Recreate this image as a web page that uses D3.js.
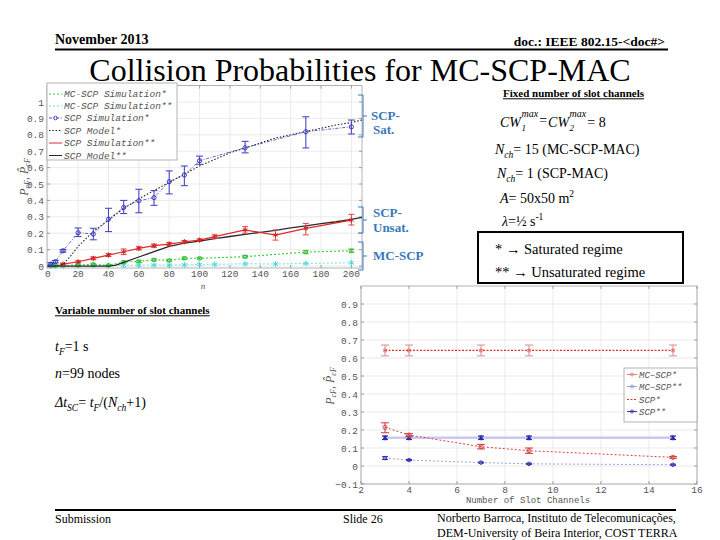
<!DOCTYPE html>
<html><head><meta charset="utf-8">
<script src="https://cdn.jsdelivr.net/npm/d3@7"></script>
<style>body{margin:0;background:#fff} svg{display:block}</style>
</head><body>
<script>
// ---------- DATA: top chart (fixed number of slot channels) ----------
const topXTicks = [0,20,40,60,80,100,120,140,160,180,200];
const topYTicks = [0,0.1,0.2,0.3,0.4,0.5,0.6,0.7,0.8,0.9,1];

const nSatSim   = [2,5,10,20,30,40,50,60,70,80,90,100,130,170,200];
const scpSatSim = [0.012,0.026,0.093,0.203,0.195,0.285,0.357,0.398,0.417,0.514,0.555,0.642,0.721,0.819,0.849];
const scpSatLo  = [0.006,0.02,0.085,0.18,0.16,0.21,0.32,0.325,0.37,0.44,0.49,0.62,0.69,0.72,0.805];
const scpSatHi  = [0.02,0.034,0.1,0.232,0.23,0.352,0.40,0.468,0.46,0.58,0.61,0.67,0.76,0.91,0.89];

const nModel      = [0,5,10,15,20,30,40,45,50,60,70,80,90,100,110,120,130,140,150,160,170,180,190,200,207];
const scpSatModel = [0,0,0.01,0.06,0.12,0.21,0.28,0.315,0.35,0.41,0.46,0.51,0.56,0.61,0.65,0.69,0.72,0.75,0.78,0.80,0.82,0.84,0.86,0.875,0.89];
const scpUnsModel = [0,0,0,0,0,0,0,0.006,0.022,0.055,0.088,0.12,0.14,0.152,0.167,0.18,0.193,0.205,0.218,0.232,0.245,0.258,0.27,0.285,0.296];

const nUnsSim   = [10,20,30,40,50,60,70,80,90,100,110,130,150,170,200];
const scpUnsSim = [0.012,0.026,0.047,0.067,0.087,0.108,0.124,0.134,0.148,0.158,0.179,0.22,0.189,0.23,0.28];
const scpUnsLo  = [0.008,0.02,0.038,0.058,0.07,0.098,0.114,0.124,0.14,0.15,0.168,0.2,0.158,0.19,0.25];
const scpUnsHi  = [0.016,0.032,0.056,0.076,0.104,0.118,0.134,0.144,0.156,0.166,0.19,0.24,0.22,0.26,0.315];

const nMc     = [2,5,10,20,30,40,50,60,70,80,90,100,130,170,200];
const mcSatSim = [0.002,0.003,0.004,0.006,0.01,0.004,0.024,0.028,0.038,0.034,0.047,0.047,0.057,0.085,0.093];
const mcSatLo  = [0.0,0.0,0.001,0.002,0.005,0.001,0.018,0.022,0.032,0.028,0.04,0.042,0.05,0.075,0.082];
const mcSatHi  = [0.004,0.006,0.007,0.01,0.015,0.007,0.03,0.034,0.044,0.04,0.054,0.052,0.064,0.095,0.104];

const nMcU     = [2,5,10,20,30,40,50,60,70,80,90,100,110,130,150,170,200];
const mcUnsSim = [0.001,0.001,0.002,0.002,0.003,0.003,0.004,0.005,0.006,0.006,0.007,0.01,0.01,0.014,0.012,0.016,0.02];

const topLegend = ["MC-SCP Simulation*","MC-SCP Simulation**","SCP Simulation*","SCP Model*","SCP Simulation**","SCP Model**"];

// ---------- DATA: bottom chart (variable number of slot channels) ----------
const botXTicks = [2,4,6,8,10,12,14,16];
const botYTicks = [-0.1,0,0.1,0.2,0.3,0.4,0.5,0.6,0.7,0.8,0.9];
const channels = [3,4,7,9,15];
const scpSatB  = [0.642,0.642,0.642,0.642,0.642];
const scpSatBLo= [0.612,0.612,0.612,0.612,0.612];
const scpSatBHi= [0.672,0.672,0.672,0.672,0.672];
const mcSatB   = [0.215,0.172,0.107,0.085,0.048];
const mcSatBLo = [0.185,0.162,0.095,0.07,0.043];
const mcSatBHi = [0.24,0.18,0.12,0.1,0.053];
const scpUnsB  = [0.157,0.157,0.157,0.157,0.157];
const scpUnsBLo= [0.147,0.147,0.147,0.147,0.147];
const scpUnsBHi= [0.167,0.167,0.167,0.167,0.167];
const mcUnsB   = [0.044,0.033,0.019,0.012,0.007];
const mcUnsBLo = [0.036,0.03,0.016,0.009,0.004];
const mcUnsBHi = [0.052,0.036,0.022,0.015,0.01];
const botLegend = ["MC\u2212SCP*","MC\u2212SCP**","SCP*","SCP**"];

// ---------- DRAW ----------
const svg = d3.select("body").append("svg").attr("width",720).attr("height",540);
const SERIF = "'Liberation Serif','Times New Roman',serif";
const MONO = "'Liberation Mono','DejaVu Sans Mono',monospace";
const zip = (xs, ys) => xs.map((x,i)=>[x,ys[i]]);

function drawFrame(g, x, y, xt, yt, fmt, xTickY) {
  const [x0,x1] = x.range(), [y0,y1] = y.range();
  g.selectAll(null).data(xt).join("line")
    .attr("x1",d=>x(d)).attr("x2",d=>x(d)).attr("y1",y0).attr("y2",y1)
    .attr("stroke","#e6e6e6").attr("stroke-width",0.8);
  g.selectAll(null).data(yt).join("line")
    .attr("x1",x0).attr("x2",x1).attr("y1",d=>y(d)).attr("y2",d=>y(d))
    .attr("stroke","#e6e6e6").attr("stroke-width",0.8);
  g.append("rect").attr("x",x0).attr("y",y1).attr("width",x1-x0).attr("height",y0-y1)
    .attr("fill","none").attr("stroke","#a0a0a0").attr("stroke-width",0.8);
  const tk = g.append("g").attr("stroke","#8a8a8a").attr("stroke-width",0.8);
  xt.forEach(d=>{ tk.append("line").attr("x1",x(d)).attr("x2",x(d)).attr("y1",y0).attr("y2",y0-3);
                  tk.append("line").attr("x1",x(d)).attr("x2",x(d)).attr("y1",y1).attr("y2",y1+3);});
  yt.forEach(d=>{ tk.append("line").attr("x1",x0).attr("x2",x0+3).attr("y1",y(d)).attr("y2",y(d));
                  tk.append("line").attr("x1",x1).attr("x2",x1-3).attr("y1",y(d)).attr("y2",y(d));});
  g.selectAll(null).data(xt).join("text").attr("x",d=>x(d)).attr("y",xTickY)
    .attr("text-anchor","middle").attr("font-family",MONO).attr("font-size",9.5).attr("fill","#555").text(d=>d);
  g.selectAll(null).data(yt).join("text").attr("x",x0-3).attr("y",d=>y(d)+3.5)
    .attr("text-anchor","end").attr("font-family",MONO).attr("font-size",9.5).attr("fill","#555").text(fmt);
}
function errBars(g, x, y, xs, lo, hi, color, w, cap) {
  xs.forEach((xv,i)=>{
    const px = x(xv);
    g.append("line").attr("x1",px).attr("x2",px).attr("y1",y(lo[i])).attr("y2",y(hi[i])).attr("stroke",color).attr("stroke-width",w);
    [lo[i],hi[i]].forEach(v=> g.append("line").attr("x1",px-cap).attr("x2",px+cap).attr("y1",y(v)).attr("y2",y(v)).attr("stroke",color).attr("stroke-width",w));
  });
}
function path(g, x, y, xs, ys, color, w, dash) {
  g.append("path").datum(zip(xs,ys)).attr("d", d3.line().x(d=>x(d[0])).y(d=>y(d[1])))
    .attr("fill","none").attr("stroke",color).attr("stroke-width",w).attr("stroke-dasharray",dash||null);
}
function markers(g, x, y, xs, ys, type, size, color, fill) {
  const sym = d3.symbol().type(type).size(size);
  g.selectAll(null).data(zip(xs,ys)).join("path").attr("d",sym)
    .attr("transform",d=>`translate(${x(d[0])},${y(d[1])})`)
    .attr("fill",fill||"none").attr("stroke",color).attr("stroke-width",0.9);
}
function asterisk(g, x, y, xs, ys, color, r) {
  xs.forEach((xv,i)=>{
    const px=x(xv), py=y(ys[i]);
    [[0,1],[0.87,0.5],[0.87,-0.5]].forEach(([a,b])=>
      g.append("line").attr("x1",px-a*r).attr("x2",px+a*r).attr("y1",py-b*r).attr("y2",py+b*r)
       .attr("stroke",color).attr("stroke-width",1));
  });
}

// ===== TOP CHART =====
const xT = d3.scaleLinear().domain([-0.5,207]).range([47,362]);
const yT = d3.scaleLinear().domain([-0.012,1.1]).range([268,85.6]);
const gT = svg.append("g");
drawFrame(gT, xT, yT, topXTicks, topYTicks, d=> d===0?"0":d===1?"1":d3.format(".1f")(d), 277);

path(gT,xT,yT,nMcU,mcUnsSim,"#66e4e4",1,"2,2");
asterisk(gT,xT,yT,nMcU,mcUnsSim,"#44d8d8",3);
errBars(gT,xT,yT,nMc,mcSatLo,mcSatHi,"#55cc55",1,3);
path(gT,xT,yT,nMc,mcSatSim,"#33cc33",1.1,"2,2");
markers(gT,xT,yT,nMc,mcSatSim,d3.symbolSquare,10,"#33bb33");
path(gT,xT,yT,nModel,scpUnsModel,"#2a2a2a",1.3);
errBars(gT,xT,yT,nUnsSim,scpUnsLo,scpUnsHi,"#e04848",1,3);
path(gT,xT,yT,nUnsSim,scpUnsSim,"#e02828",1.2);
asterisk(gT,xT,yT,nUnsSim,scpUnsSim,"#d02020",2.6);
path(gT,xT,yT,nModel,scpSatModel,"#222",1.1,"1.5,1.8");
errBars(gT,xT,yT,nSatSim,scpSatLo,scpSatHi,"#4a4ac4",1.1,3.5);
path(gT,xT,yT,nSatSim,scpSatSim,"#5050d0",0.9,"3,1.5,1,1.5");
markers(gT,xT,yT,nSatSim,scpSatSim,d3.symbolCircle,14,"#3030b0");

// top legend
const lg = gT.append("g");
lg.append("rect").attr("x",47).attr("y",83).attr("width",130).attr("height",77)
  .attr("fill","#fff").attr("stroke","#a0a0a0").attr("stroke-width",0.8);
const legY = [94,106,118,130.5,143,155.5];
const legStyle = [
  {c:"#33cc33",dash:"2,2"},{c:"#66e4e4",dash:"2,2"},{c:"#5050d0",dash:"3,1.5,1,1.5",m:true},
  {c:"#222",dash:"1.5,1.8"},{c:"#e02828",dash:null},{c:"#2a2a2a",dash:null}];
topLegend.forEach((t,i)=>{
  lg.append("line").attr("x1",49).attr("x2",62).attr("y1",legY[i]).attr("y2",legY[i])
    .attr("stroke",legStyle[i].c).attr("stroke-width",1).attr("stroke-dasharray",legStyle[i].dash);
  if(legStyle[i].m) lg.append("circle").attr("cx",55.5).attr("cy",legY[i]).attr("r",1.8).attr("fill","none").attr("stroke","#3030b0").attr("stroke-width",0.8);
  lg.append("text").attr("x",64).attr("y",legY[i]+3.3).attr("font-family",MONO).attr("font-style","italic")
    .attr("font-size",9.5).attr("fill","#555").text(t);
});
gT.append("text").attr("x",203).attr("y",289).attr("font-family",SERIF).attr("font-style","italic")
  .attr("font-size",9).attr("fill","#555").attr("text-anchor","middle").text("n");
function yLabel(g, cx, cy) {
  const t = g.append("text").attr("transform",`translate(${cx},${cy}) rotate(-90)`).attr("text-anchor","middle")
    .attr("font-family",SERIF).attr("font-style","italic").attr("font-size",12).attr("fill","#555");
  t.append("tspan").text("P");
  t.append("tspan").attr("font-size",8).attr("dy",2).text("cF");
  t.append("tspan").attr("dy",-2).text(", P\u0302");
  t.append("tspan").attr("font-size",8).attr("dy",2).text("cF");
}
yLabel(gT, 28, 177);

// bracket labels
const BL = "#3a78b8";
function bracket(y1, y2) {
  const ym = (y1+y2)/2;
  svg.append("path").attr("d",`M358,${y1}H363V${y2}H358M363,${ym}H367`).attr("fill","none").attr("stroke",BL).attr("stroke-width",1);
}
bracket(95,137); bracket(207,233); bracket(242,270);
const bl = (x,y,t)=> svg.append("text").attr("x",x).attr("y",y).attr("font-family",SERIF).attr("font-weight","bold")
   .attr("font-size",13).attr("fill",BL).text(t);
bl(371,120,"SCP-"); bl(373,134,"Sat."); bl(373,217,"SCP-"); bl(373,232,"Unsat."); bl(373,260,"MC-SCP");

// ===== BOTTOM CHART =====
const xB = d3.scaleLinear().domain([2,16]).range([361,697]);
const yB = d3.scaleLinear().domain([-0.1,1.0]).range([484,286]);
const gB = svg.append("g");
drawFrame(gB, xB, yB, botXTicks, botYTicks, d=> d===0?"0":d3.format(".1f")(d), 493);
path(gB,xB,yB,channels,scpUnsB,"#c8c8f0",2.6);
errBars(gB,xB,yB,channels,scpUnsBLo,scpUnsBHi,"#3030b8",1.1,3);
asterisk(gB,xB,yB,channels,scpUnsB,"#2020a8",2.6);
path(gB,xB,yB,channels,mcUnsB,"#a0a0e0",1,"2,2");
errBars(gB,xB,yB,channels,mcUnsBLo,mcUnsBHi,"#3030b8",1,3);
markers(gB,xB,yB,channels,mcUnsB,d3.symbolCircle,10,"#3030b0");
errBars(gB,xB,yB,channels,scpSatBLo,scpSatBHi,"#e89090",1.1,4);
path(gB,xB,yB,channels,scpSatB,"#dd3030",1.3,"2,1.5");
asterisk(gB,xB,yB,channels,scpSatB,"#e07070",2.2);
errBars(gB,xB,yB,channels,mcSatBLo,mcSatBHi,"#d84848",1.1,4);
path(gB,xB,yB,channels,mcSatB,"#dd4040",1,"2,2");
markers(gB,xB,yB,channels,mcSatB,d3.symbolCircle,14,"#d04040");
const lb = gB.append("g");
lb.append("rect").attr("x",624).attr("y",368).attr("width",73).attr("height",54)
  .attr("fill","#fff").attr("stroke","#a0a0a0").attr("stroke-width",0.8);
const lbY = [374.5,386.5,399.5,411.5];
const lbStyle = [{c:"#e08080",dash:null,m:"#e08080"},{c:"#a0a0e0",dash:null,m:"#9090d0"},{c:"#dd3030",dash:"2,1.5"},{c:"#3030b0",dash:null,m:"#3030b0"}];
botLegend.forEach((t,i)=>{
  lb.append("line").attr("x1",627).attr("x2",637).attr("y1",lbY[i]).attr("y2",lbY[i])
    .attr("stroke",lbStyle[i].c).attr("stroke-width",1).attr("stroke-dasharray",lbStyle[i].dash);
  if(lbStyle[i].m) lb.append("circle").attr("cx",632).attr("cy",lbY[i]).attr("r",1.6).attr("fill","none").attr("stroke",lbStyle[i].m).attr("stroke-width",0.8);
  lb.append("text").attr("x",639).attr("y",lbY[i]+3).attr("font-family",MONO).attr("font-style","italic")
    .attr("font-size",9).attr("fill","#555").text(t);
});
gB.append("text").attr("x",528).attr("y",503).attr("text-anchor","middle").attr("font-family",MONO)
  .attr("font-size",9).attr("fill","#555").text("Number of Slot Channels");
yLabel(gB, 334, 386);

// ===== SLIDE TEXT =====
function rich(x, y, size, segs, opts={}) {
  const t = svg.append("text").attr("x",x).attr("y",y).attr("font-family",SERIF).attr("font-size",size).attr("fill","#000");
  if(opts.bold) t.attr("font-weight","bold");
  if(opts.anchor) t.attr("text-anchor",opts.anchor);
  let cur = 0;
  segs.forEach(([txt, st=""])=>{
    const s = t.append("tspan").text(txt);
    let target = 0;
    if(st.includes("b")) { target = size*0.25; s.attr("font-size", size*0.68); }
    if(st.includes("p")) { target = -size*0.4; s.attr("font-size", size*0.68); }
    if(st.includes("i")) s.attr("font-style","italic");
    if(target!==cur) s.attr("dy", target-cur);
    cur = target;
  });
  return t;
}
rich(55,44,14,[["November 2013"]],{bold:true});
rich(665,46,13.5,[["doc.: IEEE 802.15-<doc#>"]],{bold:true,anchor:"end"});
svg.append("line").attr("x1",55).attr("x2",668).attr("y1",49.5).attr("y2",49.5).attr("stroke","#000").attr("stroke-width",2);
rich(360,81,32,[["Collision Probabilities for MC-SCP-MAC"]],{anchor:"middle"});

function heading(x,y,txt) {
  const t = rich(x,y,11,[[txt]],{bold:true});
  const w = t.node().getComputedTextLength();
  svg.append("line").attr("x1",x).attr("x2",x+w).attr("y1",y+1.8).attr("y2",y+1.8).attr("stroke","#000").attr("stroke-width",1);
}
heading(503,97,"Fixed number of slot channels");
heading(55,314,"Variable number of slot channels");

// CW line: subscript + superscript stacked after "CW"
function cw(x, y, idx) {
  const t = rich(x,y,14,[["CW","i"]]);
  const w = t.node().getComputedTextLength();
  rich(x+w+0.5,y+4,9,[[idx,"i"]]);
  const s = rich(x+w+0.5,y-10,10,[["max","i"]]);
  return x + w + 0.5 + s.node().getComputedTextLength();
}
let cx = cw(500,127,"1");
const eq = rich(cx+1,125,14,[["="]]);
cx = cx + 1 + eq.node().getComputedTextLength() + 1;
cx = cw(cx,127,"2");
rich(cx+1,127,14,[["= 8"]]);

rich(495,154,14,[["N","i"],["ch","ib"],["= 15 (MC-SCP-MAC)"]]);
rich(497,178,14,[["N","i"],["ch","ib"],["= 1 (SCP-MAC)"]]);
rich(500,203,14,[["A","i"],["= 50x50 m"],["2","p"]]);
rich(502,226,14,[["\u03bb","i"],["=\u00bd s"],["-1","p"]]);

svg.append("rect").attr("x",478).attr("y",232).attr("width",205).attr("height",51)
  .attr("fill","#fff").attr("stroke","#000").attr("stroke-width",2);
rich(495,254,14.5,[["* \u2192 Saturated regime"]]);
rich(495,277,14.5,[["** \u2192 Unsaturated regime"]]);

rich(55,351,14,[["t","i"],["F","ib"],["=1 s"]]);
rich(55,378,14,[["n","i"],["=99 nodes"]]);
rich(55,407,14,[["\u0394t","i"],["SC","ib"],["= "],["t","i"],["F","ib"],["/("],["N","i"],["ch","ib"],["+1)"]]);

svg.append("line").attr("x1",55).attr("x2",676).attr("y1",510).attr("y2",510).attr("stroke","#000").attr("stroke-width",2);
rich(55,523,12,[["Submission"]]);
rich(343,523,12,[["Slide 26"]]);
rich(437,522,12,[["Norberto Barroca, Instituto de Telecomunica\u00e7\u00f5es,"]]);
rich(437,537,12,[["DEM-University of Beira Interior, COST TERRA"]]);
</script>
</body></html>
